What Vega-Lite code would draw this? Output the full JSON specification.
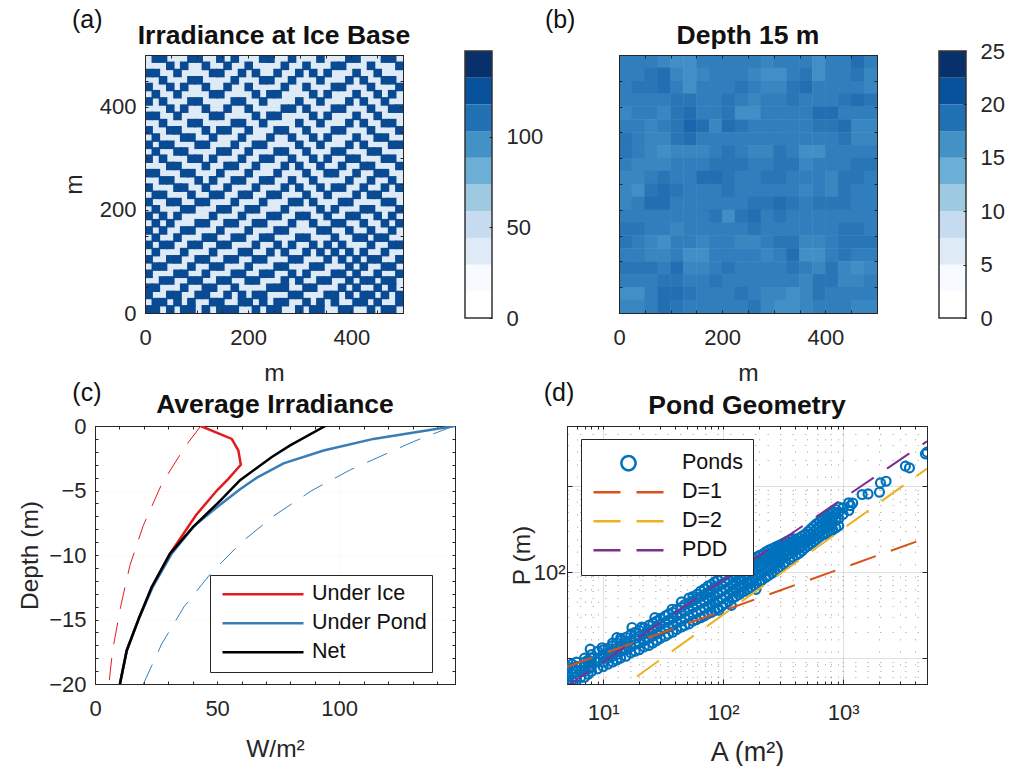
{"$schema":"https://vega.github.io/schema/vega-lite/v6.json","background":"white","padding":{"left":17,"top":7,"right":0,"bottom":0},
"config":{"font":"Liberation Sans","view":{"stroke":"#262626","strokeWidth":1},"title":{"font":"Liberation Sans","fontSize":26.5,"fontWeight":"bold","color":"#111111"},"axis":{"labelFont":"Liberation Sans","labelFontSize":22,"labelColor":"#262626","titleFont":"Liberation Sans","titleFontSize":24.5,"titleFontWeight":"normal","titleColor":"#262626","tickColor":"#262626","domainColor":"#262626","gridColor":"#262626","gridOpacity":0.15,"labelOverlap":false,"labelFlush":false},"legend":{"labelFont":"Liberation Sans","labelFontSize":21.5,"labelColor":"#111111"}},
"datasets":{"irr":[
{"s":"Under Ice","k":"base","w":43.3,"d":0},{"s":"Under Ice","k":"base","w":56,"d":-1},{"s":"Under Ice","k":"base","w":58.7,"d":-1.9},{"s":"Under Ice","k":"base","w":59.7,"d":-3},{"s":"Under Ice","k":"base","w":54.6,"d":-4.1},{"s":"Under Ice","k":"base","w":49.9,"d":-5},{"s":"Under Ice","k":"base","w":41.4,"d":-6.9},{"s":"Under Ice","k":"base","w":30.7,"d":-9.9},{"s":"Under Ice","k":"base","w":23.2,"d":-12.5},{"s":"Under Ice","k":"base","w":18.2,"d":-14.8},{"s":"Under Ice","k":"base","w":13,"d":-17.4},{"s":"Under Ice","k":"base","w":10.2,"d":-20},
{"s":"Under Pond","k":"base","w":147.3,"d":0},{"s":"Under Pond","k":"base","w":114,"d":-1},{"s":"Under Pond","k":"base","w":93.6,"d":-1.9},{"s":"Under Pond","k":"base","w":77.2,"d":-2.9},{"s":"Under Pond","k":"base","w":66.3,"d":-4},{"s":"Under Pond","k":"base","w":59.4,"d":-4.9},{"s":"Under Pond","k":"base","w":51.2,"d":-6.1},{"s":"Under Pond","k":"base","w":40.3,"d":-7.8},{"s":"Under Pond","k":"base","w":31.4,"d":-9.9},{"s":"Under Pond","k":"base","w":23.6,"d":-12.5},{"s":"Under Pond","k":"base","w":18.2,"d":-14.8},{"s":"Under Pond","k":"base","w":13,"d":-17.4},{"s":"Under Pond","k":"base","w":10.2,"d":-20},
{"s":"Net","k":"base","w":94.3,"d":0},{"s":"Net","k":"base","w":79.9,"d":-1.5},{"s":"Net","k":"base","w":72.4,"d":-2.4},{"s":"Net","k":"base","w":59.4,"d":-4.2},{"s":"Net","k":"base","w":51.2,"d":-5.8},{"s":"Net","k":"base","w":40.3,"d":-7.8},{"s":"Net","k":"base","w":30.7,"d":-9.9},{"s":"Net","k":"base","w":23.2,"d":-12.5},{"s":"Net","k":"base","w":18.2,"d":-14.8},{"s":"Net","k":"base","w":13,"d":-17.4},{"s":"Net","k":"base","w":10.2,"d":-20},
{"s":"Under Ice","k":"top","w":43.3,"d":0},{"s":"Under Ice","k":"top","w":36.9,"d":-1.6},{"s":"Under Ice","k":"top","w":27.3,"d":-4.5},{"s":"Under Ice","k":"top","w":19.8,"d":-7.7},{"s":"Under Ice","k":"top","w":14.3,"d":-10.8},{"s":"Under Ice","k":"top","w":10.5,"d":-14},{"s":"Under Ice","k":"top","w":7.2,"d":-17.4},{"s":"Under Ice","k":"top","w":5.7,"d":-20},
{"s":"Under Pond","k":"top","w":146.9,"d":0},{"s":"Under Pond","k":"top","w":130.5,"d":-1.2},{"s":"Under Pond","k":"top","w":104.5,"d":-3.4},{"s":"Under Pond","k":"top","w":88.8,"d":-5},{"s":"Under Pond","k":"top","w":73.7,"d":-6.9},{"s":"Under Pond","k":"top","w":60,"d":-9},{"s":"Under Pond","k":"top","w":47.1,"d":-11.5},{"s":"Under Pond","k":"top","w":36.5,"d":-14},{"s":"Under Pond","k":"top","w":27.3,"d":-16.9},{"s":"Under Pond","k":"top","w":19.8,"d":-20}],
"fits":[{"s":"D=1","A":5,"P":7.93},{"s":"D=1","A":5000,"P":250.7},{"s":"D=2","A":5,"P":1.6},{"s":"D=2","A":5000,"P":1600},{"s":"PDD","A":5,"P":4.71},{"s":"PDD","A":5000,"P":3311}],
"ponds":[{"A":5,"P":5},{"A":5,"P":5.5},{"A":5,"P":6},{"A":5,"P":6.5},{"A":5,"P":7},{"A":5,"P":7.5},{"A":5,"P":8},{"A":5.5,"P":5.5},{"A":5.5,"P":6.5},{"A":5.5,"P":7.5},{"A":5.5,"P":8.5},{"A":6,"P":5.5},{"A":6,"P":6},{"A":6,"P":7},{"A":6,"P":8},{"A":6,"P":9},{"A":7,"P":6},{"A":7,"P":7},{"A":7,"P":8},{"A":7,"P":9},{"A":7,"P":10},{"A":8,"P":7},{"A":8,"P":8},{"A":8,"P":9},{"A":8,"P":10},{"A":8,"P":11},{"A":7.8,"P":12.7},{"A":9,"P":7.5},{"A":9,"P":9},{"A":9,"P":10},{"A":9,"P":12},{"A":10,"P":8},{"A":10,"P":9},{"A":10,"P":10},{"A":10,"P":11},{"A":10,"P":12.5},{"A":9.8,"P":13.2},{"A":12,"P":9},{"A":12,"P":10.5},{"A":12,"P":12},{"A":12,"P":14},{"A":12,"P":15},{"A":13,"P":17.3},{"A":14,"P":10},{"A":14,"P":12},{"A":14,"P":14},{"A":14,"P":16},{"A":14,"P":17},{"A":17,"P":11.5},{"A":17,"P":13.5},{"A":17,"P":16},{"A":17,"P":19},{"A":17.4,"P":22.7},{"A":20,"P":12.5},{"A":20,"P":15},{"A":20,"P":18},{"A":20,"P":21},{"A":21,"P":23},{"A":24,"P":14},{"A":24,"P":17},{"A":24,"P":20},{"A":24,"P":24},{"A":27,"P":29.6},{"A":28,"P":16},{"A":28,"P":19},{"A":28,"P":23},{"A":28,"P":27},{"A":33,"P":18},{"A":33,"P":22},{"A":33,"P":26},{"A":33,"P":31},{"A":37.6,"P":37},{"A":38,"P":20},{"A":38,"P":24},{"A":38,"P":29},{"A":38,"P":34},{"A":45,"P":23},{"A":45,"P":27},{"A":45,"P":33},{"A":45,"P":39},{"A":45,"P":45},{"A":52,"P":25},{"A":52,"P":31},{"A":52,"P":37},{"A":52,"P":44},{"A":52,"P":50},{"A":61,"P":55.5},{"A":60,"P":28},{"A":60,"P":34},{"A":60,"P":41},{"A":60,"P":49},{"A":70,"P":31},{"A":70,"P":38},{"A":70,"P":46},{"A":70,"P":55},{"A":70,"P":64},{"A":80,"P":34},{"A":80,"P":42},{"A":80,"P":51},{"A":80,"P":62},{"A":80,"P":72},{"A":90,"P":38},{"A":90,"P":46},{"A":90,"P":56},{"A":90,"P":68},{"A":90,"P":80},{"A":92,"P":36},{"A":105,"P":43},{"A":105,"P":52},{"A":105,"P":63},{"A":105,"P":76},{"A":105,"P":92},{"A":117,"P":41},{"A":120,"P":50},{"A":120,"P":60},{"A":120,"P":72},{"A":120,"P":87},{"A":120,"P":104},{"A":135,"P":55},{"A":135,"P":66},{"A":135,"P":80},{"A":135,"P":96},{"A":135,"P":115},{"A":150,"P":60},{"A":150,"P":72},{"A":150,"P":87},{"A":150,"P":104},{"A":150,"P":124},{"A":170,"P":66},{"A":170,"P":80},{"A":170,"P":98},{"A":170,"P":118},{"A":170,"P":137},{"A":188,"P":63},{"A":190,"P":74},{"A":190,"P":90},{"A":190,"P":108},{"A":190,"P":130},{"A":190,"P":150},{"A":211,"P":81},{"A":215,"P":100},{"A":215,"P":122},{"A":215,"P":145},{"A":215,"P":163},{"A":240,"P":92},{"A":240,"P":112},{"A":240,"P":135},{"A":240,"P":160},{"A":240,"P":180},{"A":270,"P":102},{"A":270,"P":125},{"A":270,"P":150},{"A":270,"P":175},{"A":270,"P":194},{"A":300,"P":115},{"A":300,"P":138},{"A":300,"P":165},{"A":300,"P":190},{"A":300,"P":208},{"A":330,"P":130},{"A":340,"P":155},{"A":340,"P":182},{"A":340,"P":205},{"A":340,"P":228},{"A":380,"P":150},{"A":380,"P":175},{"A":380,"P":200},{"A":380,"P":225},{"A":380,"P":245},{"A":430,"P":165},{"A":430,"P":190},{"A":430,"P":220},{"A":430,"P":250},{"A":480,"P":190},{"A":480,"P":215},{"A":480,"P":240},{"A":480,"P":275},{"A":540,"P":215},{"A":540,"P":245},{"A":540,"P":280},{"A":540,"P":320},{"A":600,"P":240},{"A":600,"P":275},{"A":600,"P":315},{"A":600,"P":365},{"A":670,"P":270},{"A":670,"P":310},{"A":670,"P":360},{"A":670,"P":410},{"A":740,"P":285},{"A":740,"P":335},{"A":740,"P":395},{"A":740,"P":450},{"A":820,"P":310},{"A":820,"P":375},{"A":820,"P":440},{"A":820,"P":500},{"A":920,"P":345},{"A":920,"P":420},{"A":920,"P":500},{"A":920,"P":570},{"A":1000,"P":470},{"A":1000,"P":560},{"A":1114,"P":520},{"A":1114,"P":640},{"A":1150,"P":593},{"A":1202,"P":637},{"A":1439,"P":798},{"A":1614,"P":811},{"A":2009,"P":849},{"A":2046,"P":1089},{"A":2280,"P":1140},{"A":3304,"P":1706},{"A":3570,"P":1629},{"A":4850,"P":2372},{"A":5000,"P":2483},
{"A":6.5,"P":6},{"A":6.5,"P":7},{"A":6.5,"P":8},{"A":7.5,"P":6.5},{"A":7.5,"P":7.5},{"A":7.5,"P":8.5},{"A":7.5,"P":9.5},{"A":11,"P":8.5},{"A":11,"P":10},{"A":11,"P":11.5},{"A":11,"P":13},{"A":13,"P":9.5},{"A":13,"P":11},{"A":13,"P":13},{"A":13,"P":15},{"A":15.5,"P":10.5},{"A":15.5,"P":12.5},{"A":15.5,"P":15},{"A":15.5,"P":17.5},{"A":18.5,"P":12},{"A":18.5,"P":14.5},{"A":18.5,"P":17},{"A":18.5,"P":20},{"A":22,"P":13.5},{"A":22,"P":16},{"A":22,"P":19},{"A":22,"P":22.5},{"A":26,"P":15},{"A":26,"P":18},{"A":26,"P":21.5},{"A":26,"P":25.5},{"A":30,"P":17},{"A":30,"P":20.5},{"A":30,"P":24.5},{"A":30,"P":29},{"A":35,"P":19},{"A":35,"P":23},{"A":35,"P":27.5},{"A":35,"P":32.5},{"A":41,"P":21.5},{"A":41,"P":26},{"A":41,"P":31},{"A":41,"P":37},{"A":48,"P":24},{"A":48,"P":29},{"A":48,"P":35},{"A":48,"P":42},{"A":56,"P":27},{"A":56,"P":32.5},{"A":56,"P":39},{"A":56,"P":46.5},{"A":56,"P":52},{"A":65,"P":29.5},{"A":65,"P":36},{"A":65,"P":43.5},{"A":65,"P":52},{"A":65,"P":60},{"A":75,"P":33},{"A":75,"P":40},{"A":75,"P":48.5},{"A":75,"P":58},{"A":75,"P":69},{"A":85,"P":36},{"A":85,"P":44},{"A":85,"P":53.5},{"A":85,"P":65},{"A":85,"P":77},{"A":97,"P":40},{"A":97,"P":49},{"A":97,"P":60},{"A":97,"P":72},{"A":97,"P":86},{"A":112,"P":46},{"A":112,"P":56},{"A":112,"P":67},{"A":112,"P":81},{"A":112,"P":97},{"A":127,"P":52},{"A":127,"P":63},{"A":127,"P":76},{"A":127,"P":91},{"A":127,"P":109},{"A":142,"P":58},{"A":142,"P":69},{"A":142,"P":83},{"A":142,"P":100},{"A":142,"P":119},{"A":160,"P":63},{"A":160,"P":76},{"A":160,"P":92},{"A":160,"P":111},{"A":160,"P":130},{"A":180,"P":70},{"A":180,"P":85},{"A":180,"P":103},{"A":180,"P":124},{"A":180,"P":143},{"A":202,"P":78},{"A":202,"P":95},{"A":202,"P":115},{"A":202,"P":137},{"A":202,"P":157},{"A":227,"P":87},{"A":227,"P":106},{"A":227,"P":128},{"A":227,"P":152},{"A":227,"P":172},{"A":255,"P":97},{"A":255,"P":118},{"A":255,"P":142},{"A":255,"P":167},{"A":255,"P":187},{"A":285,"P":108},{"A":285,"P":131},{"A":285,"P":157},{"A":285,"P":182},{"A":285,"P":201},{"A":320,"P":122},{"A":320,"P":146},{"A":320,"P":173},{"A":320,"P":197},{"A":320,"P":218},{"A":360,"P":140},{"A":360,"P":165},{"A":360,"P":191},{"A":360,"P":215},{"A":360,"P":237},{"A":405,"P":157},{"A":405,"P":182},{"A":405,"P":210},{"A":405,"P":237},{"A":455,"P":177},{"A":455,"P":202},{"A":455,"P":230},{"A":455,"P":262},{"A":510,"P":202},{"A":510,"P":230},{"A":510,"P":260},{"A":510,"P":297},{"A":570,"P":227},{"A":570,"P":260},{"A":570,"P":297},{"A":570,"P":342},{"A":635,"P":255},{"A":635,"P":292},{"A":635,"P":337},{"A":635,"P":387},{"A":705,"P":277},{"A":705,"P":322},{"A":705,"P":377},{"A":705,"P":430},{"A":780,"P":297},{"A":780,"P":355},{"A":780,"P":417},{"A":780,"P":475},{"A":870,"P":327},{"A":870,"P":397},{"A":870,"P":470},{"A":870,"P":535}],
"ice":[{"x":7,"y":7},{"x":21,"y":7},{"x":49,"y":7},{"x":76,"y":7},{"x":90,"y":7},{"x":118,"y":7},{"x":146,"y":7},{"x":160,"y":7},{"x":174,"y":7},{"x":215,"y":7},{"x":243,"y":7},{"x":257,"y":7},{"x":299,"y":7},{"x":326,"y":7},{"x":340,"y":7},{"x":382,"y":7},{"x":396,"y":7},{"x":438,"y":7},{"x":465,"y":7},{"x":479,"y":7},
{"x":21,"y":21},{"x":35,"y":21},{"x":63,"y":21},{"x":90,"y":21},{"x":132,"y":21},{"x":146,"y":21},{"x":188,"y":21},{"x":201,"y":21},{"x":229,"y":21},{"x":257,"y":21},{"x":271,"y":21},{"x":313,"y":21},{"x":340,"y":21},{"x":368,"y":21},{"x":410,"y":21},{"x":424,"y":21},{"x":451,"y":21},{"x":493,"y":21},
{"x":7,"y":35},{"x":49,"y":35},{"x":63,"y":35},{"x":104,"y":35},{"x":118,"y":35},{"x":160,"y":35},{"x":188,"y":35},{"x":215,"y":35},{"x":229,"y":35},{"x":285,"y":35},{"x":299,"y":35},{"x":354,"y":35},{"x":368,"y":35},{"x":396,"y":35},{"x":424,"y":35},{"x":438,"y":35},{"x":465,"y":35},{"x":493,"y":35},
{"x":7,"y":49},{"x":21,"y":49},{"x":76,"y":49},{"x":118,"y":49},{"x":132,"y":49},{"x":174,"y":49},{"x":243,"y":49},{"x":257,"y":49},{"x":271,"y":49},{"x":313,"y":49},{"x":326,"y":49},{"x":382,"y":49},{"x":410,"y":49},{"x":451,"y":49},{"x":479,"y":49},
{"x":35,"y":63},{"x":49,"y":63},{"x":90,"y":63},{"x":104,"y":63},{"x":146,"y":63},{"x":160,"y":63},{"x":201,"y":63},{"x":215,"y":63},{"x":271,"y":63},{"x":299,"y":63},{"x":340,"y":63},{"x":354,"y":63},{"x":396,"y":63},{"x":424,"y":63},{"x":438,"y":63},{"x":465,"y":63},{"x":479,"y":63},
{"x":7,"y":76},{"x":63,"y":76},{"x":76,"y":76},{"x":118,"y":76},{"x":174,"y":76},{"x":188,"y":76},{"x":229,"y":76},{"x":243,"y":76},{"x":285,"y":76},{"x":313,"y":76},{"x":368,"y":76},{"x":382,"y":76},{"x":410,"y":76},{"x":451,"y":76},{"x":493,"y":76},
{"x":21,"y":90},{"x":35,"y":90},{"x":90,"y":90},{"x":132,"y":90},{"x":146,"y":90},{"x":201,"y":90},{"x":257,"y":90},{"x":271,"y":90},{"x":326,"y":90},{"x":340,"y":90},{"x":396,"y":90},{"x":424,"y":90},{"x":465,"y":90},{"x":479,"y":90},
{"x":7,"y":104},{"x":49,"y":104},{"x":63,"y":104},{"x":104,"y":104},{"x":118,"y":104},{"x":160,"y":104},{"x":174,"y":104},{"x":215,"y":104},{"x":229,"y":104},{"x":285,"y":104},{"x":299,"y":104},{"x":354,"y":104},{"x":382,"y":104},{"x":410,"y":104},{"x":438,"y":104},{"x":451,"y":104},{"x":493,"y":104},
{"x":21,"y":118},{"x":76,"y":118},{"x":132,"y":118},{"x":188,"y":118},{"x":201,"y":118},{"x":243,"y":118},{"x":271,"y":118},{"x":313,"y":118},{"x":340,"y":118},{"x":368,"y":118},{"x":396,"y":118},{"x":424,"y":118},{"x":465,"y":118},
{"x":7,"y":132},{"x":35,"y":132},{"x":49,"y":132},{"x":90,"y":132},{"x":104,"y":132},{"x":146,"y":132},{"x":160,"y":132},{"x":215,"y":132},{"x":257,"y":132},{"x":285,"y":132},{"x":326,"y":132},{"x":354,"y":132},{"x":382,"y":132},{"x":438,"y":132},{"x":479,"y":132},{"x":493,"y":132},
{"x":21,"y":146},{"x":63,"y":146},{"x":118,"y":146},{"x":132,"y":146},{"x":174,"y":146},{"x":188,"y":146},{"x":229,"y":146},{"x":243,"y":146},{"x":299,"y":146},{"x":313,"y":146},{"x":368,"y":146},{"x":410,"y":146},{"x":424,"y":146},{"x":451,"y":146},{"x":465,"y":146},
{"x":7,"y":160},{"x":35,"y":160},{"x":76,"y":160},{"x":90,"y":160},{"x":146,"y":160},{"x":201,"y":160},{"x":257,"y":160},{"x":271,"y":160},{"x":340,"y":160},{"x":354,"y":160},{"x":396,"y":160},{"x":438,"y":160},{"x":479,"y":160},
{"x":21,"y":174},{"x":49,"y":174},{"x":104,"y":174},{"x":118,"y":174},{"x":160,"y":174},{"x":174,"y":174},{"x":215,"y":174},{"x":229,"y":174},{"x":285,"y":174},{"x":326,"y":174},{"x":368,"y":174},{"x":382,"y":174},{"x":424,"y":174},{"x":465,"y":174},{"x":493,"y":174},
{"x":7,"y":188},{"x":35,"y":188},{"x":63,"y":188},{"x":132,"y":188},{"x":188,"y":188},{"x":243,"y":188},{"x":257,"y":188},{"x":299,"y":188},{"x":313,"y":188},{"x":354,"y":188},{"x":396,"y":188},{"x":410,"y":188},{"x":451,"y":188},{"x":479,"y":188},
{"x":21,"y":201},{"x":76,"y":201},{"x":90,"y":201},{"x":146,"y":201},{"x":160,"y":201},{"x":201,"y":201},{"x":215,"y":201},{"x":271,"y":201},{"x":340,"y":201},{"x":368,"y":201},{"x":424,"y":201},{"x":438,"y":201},{"x":493,"y":201},
{"x":7,"y":215},{"x":49,"y":215},{"x":63,"y":215},{"x":104,"y":215},{"x":118,"y":215},{"x":174,"y":215},{"x":229,"y":215},{"x":285,"y":215},{"x":299,"y":215},{"x":326,"y":215},{"x":382,"y":215},{"x":396,"y":215},{"x":465,"y":215},{"x":479,"y":215},
{"x":21,"y":229},{"x":35,"y":229},{"x":90,"y":229},{"x":132,"y":229},{"x":146,"y":229},{"x":188,"y":229},{"x":201,"y":229},{"x":243,"y":229},{"x":257,"y":229},{"x":313,"y":229},{"x":354,"y":229},{"x":410,"y":229},{"x":438,"y":229},{"x":451,"y":229},
{"x":7,"y":243},{"x":63,"y":243},{"x":76,"y":243},{"x":118,"y":243},{"x":160,"y":243},{"x":215,"y":243},{"x":271,"y":243},{"x":299,"y":243},{"x":340,"y":243},{"x":368,"y":243},{"x":382,"y":243},{"x":424,"y":243},{"x":465,"y":243},{"x":493,"y":243},
{"x":35,"y":257},{"x":49,"y":257},{"x":104,"y":257},{"x":132,"y":257},{"x":174,"y":257},{"x":188,"y":257},{"x":229,"y":257},{"x":243,"y":257},{"x":285,"y":257},{"x":326,"y":257},{"x":396,"y":257},{"x":438,"y":257},{"x":479,"y":257},
{"x":7,"y":271},{"x":21,"y":271},{"x":76,"y":271},{"x":90,"y":271},{"x":146,"y":271},{"x":201,"y":271},{"x":257,"y":271},{"x":313,"y":271},{"x":354,"y":271},{"x":368,"y":271},{"x":410,"y":271},{"x":451,"y":271},{"x":465,"y":271},
{"x":49,"y":285},{"x":63,"y":285},{"x":118,"y":285},{"x":160,"y":285},{"x":174,"y":285},{"x":215,"y":285},{"x":271,"y":285},{"x":299,"y":285},{"x":340,"y":285},{"x":382,"y":285},{"x":424,"y":285},{"x":438,"y":285},{"x":493,"y":285},
{"x":7,"y":299},{"x":35,"y":299},{"x":90,"y":299},{"x":104,"y":299},{"x":132,"y":299},{"x":188,"y":299},{"x":229,"y":299},{"x":243,"y":299},{"x":285,"y":299},{"x":326,"y":299},{"x":354,"y":299},{"x":396,"y":299},{"x":410,"y":299},{"x":465,"y":299},{"x":479,"y":299},
{"x":21,"y":313},{"x":63,"y":313},{"x":76,"y":313},{"x":146,"y":313},{"x":160,"y":313},{"x":201,"y":313},{"x":257,"y":313},{"x":271,"y":313},{"x":313,"y":313},{"x":368,"y":313},{"x":382,"y":313},{"x":438,"y":313},{"x":451,"y":313},
{"x":7,"y":326},{"x":35,"y":326},{"x":49,"y":326},{"x":104,"y":326},{"x":118,"y":326},{"x":174,"y":326},{"x":215,"y":326},{"x":229,"y":326},{"x":299,"y":326},{"x":340,"y":326},{"x":396,"y":326},{"x":424,"y":326},{"x":479,"y":326},{"x":493,"y":326},
{"x":21,"y":340},{"x":76,"y":340},{"x":90,"y":340},{"x":132,"y":340},{"x":188,"y":340},{"x":243,"y":340},{"x":285,"y":340},{"x":326,"y":340},{"x":354,"y":340},{"x":410,"y":340},{"x":451,"y":340},{"x":465,"y":340},
{"x":7,"y":354},{"x":49,"y":354},{"x":63,"y":354},{"x":118,"y":354},{"x":146,"y":354},{"x":160,"y":354},{"x":201,"y":354},{"x":257,"y":354},{"x":271,"y":354},{"x":313,"y":354},{"x":368,"y":354},{"x":382,"y":354},{"x":438,"y":354},{"x":493,"y":354},
{"x":35,"y":368},{"x":90,"y":368},{"x":104,"y":368},{"x":174,"y":368},{"x":188,"y":368},{"x":229,"y":368},{"x":299,"y":368},{"x":340,"y":368},{"x":396,"y":368},{"x":424,"y":368},{"x":465,"y":368},{"x":479,"y":368},
{"x":7,"y":382},{"x":21,"y":382},{"x":63,"y":382},{"x":132,"y":382},{"x":146,"y":382},{"x":215,"y":382},{"x":243,"y":382},{"x":257,"y":382},{"x":326,"y":382},{"x":354,"y":382},{"x":410,"y":382},{"x":451,"y":382},
{"x":49,"y":396},{"x":76,"y":396},{"x":118,"y":396},{"x":160,"y":396},{"x":201,"y":396},{"x":271,"y":396},{"x":285,"y":396},{"x":313,"y":396},{"x":368,"y":396},{"x":382,"y":396},{"x":438,"y":396},{"x":479,"y":396},{"x":493,"y":396},
{"x":7,"y":410},{"x":35,"y":410},{"x":90,"y":410},{"x":104,"y":410},{"x":174,"y":410},{"x":188,"y":410},{"x":229,"y":410},{"x":299,"y":410},{"x":340,"y":410},{"x":396,"y":410},{"x":424,"y":410},{"x":465,"y":410},
{"x":21,"y":424},{"x":63,"y":424},{"x":132,"y":424},{"x":146,"y":424},{"x":215,"y":424},{"x":243,"y":424},{"x":257,"y":424},{"x":326,"y":424},{"x":354,"y":424},{"x":410,"y":424},{"x":451,"y":424},{"x":479,"y":424},
{"x":7,"y":438},{"x":49,"y":438},{"x":76,"y":438},{"x":118,"y":438},{"x":160,"y":438},{"x":201,"y":438},{"x":271,"y":438},{"x":313,"y":438},{"x":368,"y":438},{"x":382,"y":438},{"x":438,"y":438},{"x":493,"y":438},
{"x":35,"y":451},{"x":90,"y":451},{"x":104,"y":451},{"x":174,"y":451},{"x":229,"y":451},{"x":243,"y":451},{"x":285,"y":451},{"x":340,"y":451},{"x":396,"y":451},{"x":424,"y":451},{"x":465,"y":451},{"x":479,"y":451},
{"x":7,"y":465},{"x":21,"y":465},{"x":63,"y":465},{"x":132,"y":465},{"x":146,"y":465},{"x":188,"y":465},{"x":215,"y":465},{"x":257,"y":465},{"x":299,"y":465},{"x":326,"y":465},{"x":354,"y":465},{"x":410,"y":465},{"x":451,"y":465},
{"x":49,"y":479},{"x":76,"y":479},{"x":118,"y":479},{"x":160,"y":479},{"x":201,"y":479},{"x":271,"y":479},{"x":313,"y":479},{"x":368,"y":479},{"x":382,"y":479},{"x":438,"y":479},{"x":493,"y":479},
{"x":21,"y":493},{"x":35,"y":493},{"x":90,"y":493},{"x":104,"y":493},{"x":146,"y":493},{"x":174,"y":493},{"x":229,"y":493},{"x":243,"y":493},{"x":285,"y":493},{"x":340,"y":493},{"x":396,"y":493},{"x":410,"y":493},{"x":465,"y":493},{"x":479,"y":493}],
"depth":[{"x":12.5,"y":487.5,"v":17},{"x":37.5,"y":487.5,"v":17},{"x":62.5,"y":487.5,"v":17},{"x":87.5,"y":487.5,"v":16},{"x":112.5,"y":487.5,"v":15},{"x":137.5,"y":487.5,"v":15},{"x":162.5,"y":487.5,"v":17},{"x":187.5,"y":487.5,"v":17},{"x":212.5,"y":487.5,"v":17},{"x":237.5,"y":487.5,"v":17},{"x":262.5,"y":487.5,"v":17},{"x":287.5,"y":487.5,"v":16},{"x":312.5,"y":487.5,"v":17},{"x":337.5,"y":487.5,"v":17},{"x":362.5,"y":487.5,"v":17},{"x":387.5,"y":487.5,"v":15},{"x":412.5,"y":487.5,"v":17},{"x":437.5,"y":487.5,"v":17},{"x":462.5,"y":487.5,"v":19},{"x":487.5,"y":487.5,"v":17},
{"x":12.5,"y":437.5,"v":17},{"x":37.5,"y":437.5,"v":18},{"x":62.5,"y":437.5,"v":18},{"x":87.5,"y":437.5,"v":19},{"x":112.5,"y":437.5,"v":17},{"x":137.5,"y":437.5,"v":15},{"x":162.5,"y":437.5,"v":17},{"x":187.5,"y":437.5,"v":17},{"x":212.5,"y":437.5,"v":17},{"x":237.5,"y":437.5,"v":18},{"x":262.5,"y":437.5,"v":17},{"x":287.5,"y":437.5,"v":16},{"x":312.5,"y":437.5,"v":16},{"x":337.5,"y":437.5,"v":18},{"x":362.5,"y":437.5,"v":19},{"x":387.5,"y":437.5,"v":17},{"x":412.5,"y":437.5,"v":17},{"x":437.5,"y":437.5,"v":17},{"x":462.5,"y":437.5,"v":17},{"x":487.5,"y":437.5,"v":16},
{"x":12.5,"y":462.5,"v":17},{"x":37.5,"y":462.5,"v":17},{"x":62.5,"y":462.5,"v":18},{"x":87.5,"y":462.5,"v":19},{"x":112.5,"y":462.5,"v":16},{"x":137.5,"y":462.5,"v":15},{"x":162.5,"y":462.5,"v":16},{"x":187.5,"y":462.5,"v":17},{"x":212.5,"y":462.5,"v":17},{"x":237.5,"y":462.5,"v":17},{"x":262.5,"y":462.5,"v":16},{"x":287.5,"y":462.5,"v":15},{"x":312.5,"y":462.5,"v":15},{"x":337.5,"y":462.5,"v":17},{"x":362.5,"y":462.5,"v":18},{"x":387.5,"y":462.5,"v":15},{"x":412.5,"y":462.5,"v":17},{"x":437.5,"y":462.5,"v":17},{"x":462.5,"y":462.5,"v":18},{"x":487.5,"y":462.5,"v":16},
{"x":12.5,"y":412.5,"v":17},{"x":37.5,"y":412.5,"v":17},{"x":62.5,"y":412.5,"v":17},{"x":87.5,"y":412.5,"v":17},{"x":112.5,"y":412.5,"v":18},{"x":137.5,"y":412.5,"v":18},{"x":162.5,"y":412.5,"v":17},{"x":187.5,"y":412.5,"v":17},{"x":212.5,"y":412.5,"v":18},{"x":237.5,"y":412.5,"v":17},{"x":262.5,"y":412.5,"v":16},{"x":287.5,"y":412.5,"v":17},{"x":312.5,"y":412.5,"v":17},{"x":337.5,"y":412.5,"v":18},{"x":362.5,"y":412.5,"v":17},{"x":387.5,"y":412.5,"v":17},{"x":412.5,"y":412.5,"v":17},{"x":437.5,"y":412.5,"v":18},{"x":462.5,"y":412.5,"v":19},{"x":487.5,"y":412.5,"v":18},
{"x":12.5,"y":387.5,"v":16},{"x":37.5,"y":387.5,"v":17},{"x":62.5,"y":387.5,"v":17},{"x":87.5,"y":387.5,"v":16},{"x":112.5,"y":387.5,"v":18},{"x":137.5,"y":387.5,"v":19},{"x":162.5,"y":387.5,"v":17},{"x":187.5,"y":387.5,"v":17},{"x":212.5,"y":387.5,"v":18},{"x":237.5,"y":387.5,"v":15},{"x":262.5,"y":387.5,"v":15},{"x":287.5,"y":387.5,"v":17},{"x":312.5,"y":387.5,"v":17},{"x":337.5,"y":387.5,"v":17},{"x":362.5,"y":387.5,"v":17},{"x":387.5,"y":387.5,"v":19},{"x":412.5,"y":387.5,"v":19},{"x":437.5,"y":387.5,"v":17},{"x":462.5,"y":387.5,"v":17},{"x":487.5,"y":387.5,"v":17},
{"x":12.5,"y":362.5,"v":17},{"x":37.5,"y":362.5,"v":17},{"x":62.5,"y":362.5,"v":16},{"x":87.5,"y":362.5,"v":17},{"x":112.5,"y":362.5,"v":18},{"x":137.5,"y":362.5,"v":20},{"x":162.5,"y":362.5,"v":19},{"x":187.5,"y":362.5,"v":16},{"x":212.5,"y":362.5,"v":19},{"x":237.5,"y":362.5,"v":18},{"x":262.5,"y":362.5,"v":17},{"x":287.5,"y":362.5,"v":17},{"x":312.5,"y":362.5,"v":17},{"x":337.5,"y":362.5,"v":17},{"x":362.5,"y":362.5,"v":17},{"x":387.5,"y":362.5,"v":18},{"x":412.5,"y":362.5,"v":18},{"x":437.5,"y":362.5,"v":19},{"x":462.5,"y":362.5,"v":16},{"x":487.5,"y":362.5,"v":16},
{"x":12.5,"y":337.5,"v":18},{"x":37.5,"y":337.5,"v":17},{"x":62.5,"y":337.5,"v":16},{"x":87.5,"y":337.5,"v":16},{"x":112.5,"y":337.5,"v":18},{"x":137.5,"y":337.5,"v":19},{"x":162.5,"y":337.5,"v":17},{"x":187.5,"y":337.5,"v":17},{"x":212.5,"y":337.5,"v":17},{"x":237.5,"y":337.5,"v":17},{"x":262.5,"y":337.5,"v":17},{"x":287.5,"y":337.5,"v":17},{"x":312.5,"y":337.5,"v":17},{"x":337.5,"y":337.5,"v":17},{"x":362.5,"y":337.5,"v":17},{"x":387.5,"y":337.5,"v":17},{"x":412.5,"y":337.5,"v":17},{"x":437.5,"y":337.5,"v":18},{"x":462.5,"y":337.5,"v":16},{"x":487.5,"y":337.5,"v":16},
{"x":12.5,"y":312.5,"v":18},{"x":37.5,"y":312.5,"v":17},{"x":62.5,"y":312.5,"v":16},{"x":87.5,"y":312.5,"v":15},{"x":112.5,"y":312.5,"v":16},{"x":137.5,"y":312.5,"v":16},{"x":162.5,"y":312.5,"v":16},{"x":187.5,"y":312.5,"v":17},{"x":212.5,"y":312.5,"v":18},{"x":237.5,"y":312.5,"v":17},{"x":262.5,"y":312.5,"v":16},{"x":287.5,"y":312.5,"v":16},{"x":312.5,"y":312.5,"v":18},{"x":337.5,"y":312.5,"v":17},{"x":362.5,"y":312.5,"v":15},{"x":387.5,"y":312.5,"v":15},{"x":412.5,"y":312.5,"v":17},{"x":437.5,"y":312.5,"v":17},{"x":462.5,"y":312.5,"v":17},{"x":487.5,"y":312.5,"v":17},
{"x":12.5,"y":287.5,"v":17},{"x":37.5,"y":287.5,"v":16},{"x":62.5,"y":287.5,"v":16},{"x":87.5,"y":287.5,"v":16},{"x":112.5,"y":287.5,"v":17},{"x":137.5,"y":287.5,"v":17},{"x":162.5,"y":287.5,"v":17},{"x":187.5,"y":287.5,"v":18},{"x":212.5,"y":287.5,"v":18},{"x":237.5,"y":287.5,"v":18},{"x":262.5,"y":287.5,"v":17},{"x":287.5,"y":287.5,"v":17},{"x":312.5,"y":287.5,"v":18},{"x":337.5,"y":287.5,"v":18},{"x":362.5,"y":287.5,"v":16},{"x":387.5,"y":287.5,"v":17},{"x":412.5,"y":287.5,"v":17},{"x":437.5,"y":287.5,"v":17},{"x":462.5,"y":287.5,"v":18},{"x":487.5,"y":287.5,"v":18},
{"x":12.5,"y":262.5,"v":16},{"x":37.5,"y":262.5,"v":16},{"x":62.5,"y":262.5,"v":17},{"x":87.5,"y":262.5,"v":18},{"x":112.5,"y":262.5,"v":17},{"x":137.5,"y":262.5,"v":17},{"x":162.5,"y":262.5,"v":19},{"x":187.5,"y":262.5,"v":19},{"x":212.5,"y":262.5,"v":18},{"x":237.5,"y":262.5,"v":17},{"x":262.5,"y":262.5,"v":17},{"x":287.5,"y":262.5,"v":18},{"x":312.5,"y":262.5,"v":18},{"x":337.5,"y":262.5,"v":17},{"x":362.5,"y":262.5,"v":17},{"x":387.5,"y":262.5,"v":17},{"x":412.5,"y":262.5,"v":16},{"x":437.5,"y":262.5,"v":18},{"x":462.5,"y":262.5,"v":18},{"x":487.5,"y":262.5,"v":17},
{"x":12.5,"y":237.5,"v":16},{"x":37.5,"y":237.5,"v":15},{"x":62.5,"y":237.5,"v":18},{"x":87.5,"y":237.5,"v":19},{"x":112.5,"y":237.5,"v":18},{"x":137.5,"y":237.5,"v":17},{"x":162.5,"y":237.5,"v":17},{"x":187.5,"y":237.5,"v":17},{"x":212.5,"y":237.5,"v":18},{"x":237.5,"y":237.5,"v":17},{"x":262.5,"y":237.5,"v":17},{"x":287.5,"y":237.5,"v":17},{"x":312.5,"y":237.5,"v":17},{"x":337.5,"y":237.5,"v":17},{"x":362.5,"y":237.5,"v":16},{"x":387.5,"y":237.5,"v":17},{"x":412.5,"y":237.5,"v":16},{"x":437.5,"y":237.5,"v":18},{"x":462.5,"y":237.5,"v":17},{"x":487.5,"y":237.5,"v":17},
{"x":12.5,"y":212.5,"v":16},{"x":37.5,"y":212.5,"v":17},{"x":62.5,"y":212.5,"v":19},{"x":87.5,"y":212.5,"v":19},{"x":112.5,"y":212.5,"v":17},{"x":137.5,"y":212.5,"v":17},{"x":162.5,"y":212.5,"v":17},{"x":187.5,"y":212.5,"v":17},{"x":212.5,"y":212.5,"v":17},{"x":237.5,"y":212.5,"v":17},{"x":262.5,"y":212.5,"v":18},{"x":287.5,"y":212.5,"v":18},{"x":312.5,"y":212.5,"v":19},{"x":337.5,"y":212.5,"v":18},{"x":362.5,"y":212.5,"v":17},{"x":387.5,"y":212.5,"v":18},{"x":412.5,"y":212.5,"v":18},{"x":437.5,"y":212.5,"v":18},{"x":462.5,"y":212.5,"v":17},{"x":487.5,"y":212.5,"v":17},
{"x":12.5,"y":187.5,"v":17},{"x":37.5,"y":187.5,"v":17},{"x":62.5,"y":187.5,"v":17},{"x":87.5,"y":187.5,"v":17},{"x":112.5,"y":187.5,"v":17},{"x":137.5,"y":187.5,"v":17},{"x":162.5,"y":187.5,"v":17},{"x":187.5,"y":187.5,"v":18},{"x":212.5,"y":187.5,"v":15},{"x":237.5,"y":187.5,"v":18},{"x":262.5,"y":187.5,"v":19},{"x":287.5,"y":187.5,"v":17},{"x":312.5,"y":187.5,"v":18},{"x":337.5,"y":187.5,"v":17},{"x":362.5,"y":187.5,"v":17},{"x":387.5,"y":187.5,"v":17},{"x":412.5,"y":187.5,"v":17},{"x":437.5,"y":187.5,"v":17},{"x":462.5,"y":187.5,"v":17},{"x":487.5,"y":187.5,"v":17},
{"x":12.5,"y":162.5,"v":18},{"x":37.5,"y":162.5,"v":18},{"x":62.5,"y":162.5,"v":17},{"x":87.5,"y":162.5,"v":17},{"x":112.5,"y":162.5,"v":16},{"x":137.5,"y":162.5,"v":17},{"x":162.5,"y":162.5,"v":17},{"x":187.5,"y":162.5,"v":17},{"x":212.5,"y":162.5,"v":17},{"x":237.5,"y":162.5,"v":17},{"x":262.5,"y":162.5,"v":18},{"x":287.5,"y":162.5,"v":17},{"x":312.5,"y":162.5,"v":17},{"x":337.5,"y":162.5,"v":17},{"x":362.5,"y":162.5,"v":17},{"x":387.5,"y":162.5,"v":17},{"x":412.5,"y":162.5,"v":17},{"x":437.5,"y":162.5,"v":18},{"x":462.5,"y":162.5,"v":18},{"x":487.5,"y":162.5,"v":17},
{"x":12.5,"y":137.5,"v":18},{"x":37.5,"y":137.5,"v":17},{"x":62.5,"y":137.5,"v":16},{"x":87.5,"y":137.5,"v":15},{"x":112.5,"y":137.5,"v":17},{"x":137.5,"y":137.5,"v":17},{"x":162.5,"y":137.5,"v":16},{"x":187.5,"y":137.5,"v":17},{"x":212.5,"y":137.5,"v":17},{"x":237.5,"y":137.5,"v":16},{"x":262.5,"y":137.5,"v":16},{"x":287.5,"y":137.5,"v":17},{"x":312.5,"y":137.5,"v":18},{"x":337.5,"y":137.5,"v":18},{"x":362.5,"y":137.5,"v":16},{"x":387.5,"y":137.5,"v":16},{"x":412.5,"y":137.5,"v":17},{"x":437.5,"y":137.5,"v":18},{"x":462.5,"y":137.5,"v":18},{"x":487.5,"y":137.5,"v":18},
{"x":12.5,"y":112.5,"v":17},{"x":37.5,"y":112.5,"v":17},{"x":62.5,"y":112.5,"v":16},{"x":87.5,"y":112.5,"v":16},{"x":112.5,"y":112.5,"v":17},{"x":137.5,"y":112.5,"v":15},{"x":162.5,"y":112.5,"v":15},{"x":187.5,"y":112.5,"v":17},{"x":212.5,"y":112.5,"v":17},{"x":237.5,"y":112.5,"v":17},{"x":262.5,"y":112.5,"v":17},{"x":287.5,"y":112.5,"v":16},{"x":312.5,"y":112.5,"v":17},{"x":337.5,"y":112.5,"v":19},{"x":362.5,"y":112.5,"v":15},{"x":387.5,"y":112.5,"v":15},{"x":412.5,"y":112.5,"v":17},{"x":437.5,"y":112.5,"v":18},{"x":462.5,"y":112.5,"v":17},{"x":487.5,"y":112.5,"v":17},
{"x":12.5,"y":87.5,"v":18},{"x":37.5,"y":87.5,"v":18},{"x":62.5,"y":87.5,"v":18},{"x":87.5,"y":87.5,"v":17},{"x":112.5,"y":87.5,"v":19},{"x":137.5,"y":87.5,"v":16},{"x":162.5,"y":87.5,"v":16},{"x":187.5,"y":87.5,"v":17},{"x":212.5,"y":87.5,"v":18},{"x":237.5,"y":87.5,"v":17},{"x":262.5,"y":87.5,"v":17},{"x":287.5,"y":87.5,"v":17},{"x":312.5,"y":87.5,"v":17},{"x":337.5,"y":87.5,"v":18},{"x":362.5,"y":87.5,"v":17},{"x":387.5,"y":87.5,"v":16},{"x":412.5,"y":87.5,"v":18},{"x":437.5,"y":87.5,"v":16},{"x":462.5,"y":87.5,"v":15},{"x":487.5,"y":87.5,"v":16},
{"x":12.5,"y":62.5,"v":17},{"x":37.5,"y":62.5,"v":17},{"x":62.5,"y":62.5,"v":17},{"x":87.5,"y":62.5,"v":18},{"x":112.5,"y":62.5,"v":18},{"x":137.5,"y":62.5,"v":17},{"x":162.5,"y":62.5,"v":17},{"x":187.5,"y":62.5,"v":18},{"x":212.5,"y":62.5,"v":17},{"x":237.5,"y":62.5,"v":17},{"x":262.5,"y":62.5,"v":17},{"x":287.5,"y":62.5,"v":17},{"x":312.5,"y":62.5,"v":17},{"x":337.5,"y":62.5,"v":17},{"x":362.5,"y":62.5,"v":16},{"x":387.5,"y":62.5,"v":18},{"x":412.5,"y":62.5,"v":18},{"x":437.5,"y":62.5,"v":16},{"x":462.5,"y":62.5,"v":16},{"x":487.5,"y":62.5,"v":17},
{"x":12.5,"y":37.5,"v":15},{"x":37.5,"y":37.5,"v":15},{"x":62.5,"y":37.5,"v":17},{"x":87.5,"y":37.5,"v":19},{"x":112.5,"y":37.5,"v":19},{"x":137.5,"y":37.5,"v":18},{"x":162.5,"y":37.5,"v":17},{"x":187.5,"y":37.5,"v":17},{"x":212.5,"y":37.5,"v":17},{"x":237.5,"y":37.5,"v":18},{"x":262.5,"y":37.5,"v":17},{"x":287.5,"y":37.5,"v":16},{"x":312.5,"y":37.5,"v":16},{"x":337.5,"y":37.5,"v":15},{"x":362.5,"y":37.5,"v":16},{"x":387.5,"y":37.5,"v":18},{"x":412.5,"y":37.5,"v":17},{"x":437.5,"y":37.5,"v":17},{"x":462.5,"y":37.5,"v":17},{"x":487.5,"y":37.5,"v":17},
{"x":12.5,"y":12.5,"v":16},{"x":37.5,"y":12.5,"v":16},{"x":62.5,"y":12.5,"v":17},{"x":87.5,"y":12.5,"v":19},{"x":112.5,"y":12.5,"v":18},{"x":137.5,"y":12.5,"v":17},{"x":162.5,"y":12.5,"v":17},{"x":187.5,"y":12.5,"v":17},{"x":212.5,"y":12.5,"v":17},{"x":237.5,"y":12.5,"v":17},{"x":262.5,"y":12.5,"v":18},{"x":287.5,"y":12.5,"v":16},{"x":312.5,"y":12.5,"v":15},{"x":337.5,"y":12.5,"v":15},{"x":362.5,"y":12.5,"v":16},{"x":387.5,"y":12.5,"v":17},{"x":412.5,"y":12.5,"v":17},{"x":437.5,"y":12.5,"v":17},{"x":462.5,"y":12.5,"v":16},{"x":487.5,"y":12.5,"v":16}]},
"resolve":{"scale":{"color":"independent","shape":"independent","size":"independent","strokeDash":"independent"},"legend":{"color":"independent","shape":"independent","size":"independent","strokeDash":"independent"}},
"spacing":-5,
"vconcat":[
{"spacing":-39,"resolve":{"scale":{"color":"independent"},"legend":{"color":"independent"}},"hconcat":[
 {"width":1,"height":1,"view":{"stroke":null},"data":{"values":[{"z":0}]},"mark":{"type":"point","opacity":0},"encoding":{}},
 {"spacing":1,"resolve":{"scale":{"color":"independent"},"legend":{"color":"independent"}},"hconcat":[
  {"spacing":53,"resolve":{"scale":{"color":"independent"},"legend":{"color":"independent"}},"hconcat":[
   {"width":258,"height":258,"title":{"text":"Irradiance at Ice Base","offset":-42},"resolve":{"axis":{"x":"independent","y":"independent"}},"layer":[
    {"data":{"values":[{"x0":0,"x1":500,"y0":0,"y1":500}]},"mark":{"type":"rect","fill":"#deebf7"},"encoding":{
      "x":{"field":"x0","type":"quantitative","scale":{"domain":[0,500],"nice":false},"axis":{"title":"m","zindex":1,"values":[0,50,100,150,200,250,300,350,400,450,500],"labelExpr":"datum.value%200==0?datum.label:''","tickSize":-3,"labelPadding":17,"titlePadding":13,"gridOpacity":{"condition":{"test":"datum.value%200==0","value":0.15},"value":0},"grid":true}},"x2":{"field":"x1"},
      "y":{"field":"y0","type":"quantitative","scale":{"domain":[0,500],"nice":false},"axis":{"title":"m","zindex":1,"values":[0,50,100,150,200,250,300,350,400,450,500],"labelExpr":"datum.value%200==0?datum.label:''","tickSize":-3,"labelPadding":12,"titlePadding":13,"gridOpacity":{"condition":{"test":"datum.value%200==0","value":0.15},"value":0},"grid":true}},"y2":{"field":"y1"}}},
    {"data":{"name":"ice"},"mark":{"type":"rect","width":8.6,"height":8.6,"clip":true,"fill":"#0a4a92"},"encoding":{"x":{"field":"x","type":"quantitative","axis":null},"y":{"field":"y","type":"quantitative","axis":null}}},
    {"data":{"values":[{"x":0,"y":0}]},"mark":{"type":"point","opacity":0},"encoding":{
      "x":{"field":"x","type":"quantitative","axis":{"orient":"top","title":null,"zindex":1,"values":[0,50,100,150,200,250,300,350,400,450,500],"labels":false,"tickSize":-3,"grid":false}},
      "y":{"field":"y","type":"quantitative","axis":{"orient":"right","title":null,"zindex":1,"values":[0,50,100,150,200,250,300,350,400,450,500],"labels":false,"tickSize":-3,"grid":false}}}},
    {"data":{"values":[{"x":-112,"y":568,"t":"(a)"}]},"mark":{"type":"text","fontSize":25,"font":"Liberation Sans","color":"#111111"},"encoding":{"text":{"field":"t"},"x":{"field":"x","type":"quantitative","axis":null},"y":{"field":"y","type":"quantitative","axis":null}}}
   ]},
   {"width":27,"height":258,"view":{"stroke":null},"data":{"values":[{"lo":0,"hi":14.74},{"lo":14.74,"hi":29.48},{"lo":29.48,"hi":44.22},{"lo":44.22,"hi":58.96},{"lo":58.96,"hi":73.7},{"lo":73.7,"hi":88.44},{"lo":88.44,"hi":103.18},{"lo":103.18,"hi":117.92},{"lo":117.92,"hi":132.66},{"lo":132.66,"hi":147.4}]},"layer":[{"mark":{"type":"rect"},"encoding":{
     "y":{"field":"lo","type":"quantitative","scale":{"domain":[0,147.4],"nice":false,"range":[263,-4]},"axis":{"orient":"right","title":null,"zindex":1,"values":[0,50,100],"tickSize":-3,"labelPadding":17,"grid":false,"domain":false}},"y2":{"field":"hi"},
     "color":{"field":"lo","type":"quantitative","legend":null,"scale":{"type":"threshold","domain":[14.74,29.48,44.22,58.96,73.7,88.44,103.18,117.92,132.66],"range":["#ffffff","#f7fbff","#deebf7","#c6dbef","#9ecae1","#6baed6","#4292c6","#2171b5","#08519c","#08306b"]}}}},
     {"data":{"values":[{"lo":0,"hi":147.4}]},"mark":{"type":"rect","fill":null,"stroke":"#333333","strokeWidth":1.5},"encoding":{"y":{"field":"lo","type":"quantitative"},"y2":{"field":"hi"}}}]}
  ]},
  {"spacing":60,"resolve":{"scale":{"color":"independent"},"legend":{"color":"independent"}},"hconcat":[
   {"width":258,"height":258,"title":{"text":"Depth 15 m","offset":-42},"resolve":{"axis":{"x":"independent","y":"independent"}},"layer":[
    {"data":{"name":"depth"},"mark":{"type":"rect","width":13.4,"height":13.4,"clip":true},"encoding":{
      "x":{"field":"x","type":"quantitative","scale":{"domain":[0,500],"nice":false},"axis":{"title":"m","zindex":1,"values":[0,50,100,150,200,250,300,350,400,450,500],"labelExpr":"datum.value%200==0?datum.label:''","tickSize":-3,"labelPadding":17,"titlePadding":13,"gridOpacity":{"condition":{"test":"datum.value%200==0","value":0.15},"value":0},"grid":true}},
      "y":{"field":"y","type":"quantitative","scale":{"domain":[0,500],"nice":false},"axis":{"title":null,"zindex":1,"values":[0,50,100,150,200,250,300,350,400,450,500],"labels":false,"tickSize":-3,"gridOpacity":{"condition":{"test":"datum.value%200==0","value":0.15},"value":0},"grid":true}},
      "color":{"field":"v","type":"quantitative","legend":null,"scale":{"domain":[14,20],"range":["#4a97cb","#1a66ad"],"clamp":true}}}},
    {"data":{"values":[{"x":0,"y":0}]},"mark":{"type":"point","opacity":0},"encoding":{
      "x":{"field":"x","type":"quantitative","axis":{"orient":"top","title":null,"zindex":1,"values":[0,50,100,150,200,250,300,350,400,450,500],"labels":false,"tickSize":-3,"grid":false}},
      "y":{"field":"y","type":"quantitative","axis":{"orient":"right","title":null,"zindex":1,"values":[0,50,100,150,200,250,300,350,400,450,500],"labels":false,"tickSize":-3,"grid":false}}}},
    {"data":{"values":[{"x":-114,"y":568,"t":"(b)"}]},"mark":{"type":"text","fontSize":25,"font":"Liberation Sans","color":"#111111"},"encoding":{"text":{"field":"t"},"x":{"field":"x","type":"quantitative","axis":null},"y":{"field":"y","type":"quantitative","axis":null}}}
   ]},
   {"width":27,"height":258,"view":{"stroke":null},"data":{"values":[{"lo":0,"hi":2.5},{"lo":2.5,"hi":5},{"lo":5,"hi":7.5},{"lo":7.5,"hi":10},{"lo":10,"hi":12.5},{"lo":12.5,"hi":15},{"lo":15,"hi":17.5},{"lo":17.5,"hi":20},{"lo":20,"hi":22.5},{"lo":22.5,"hi":25}]},"layer":[{"mark":{"type":"rect"},"encoding":{
     "y":{"field":"lo","type":"quantitative","scale":{"domain":[0,25],"nice":false,"range":[263,-4]},"axis":{"orient":"right","title":null,"zindex":1,"values":[0,5,10,15,20,25],"tickSize":-3,"labelPadding":17,"grid":false,"domain":false}},"y2":{"field":"hi"},
     "color":{"field":"lo","type":"quantitative","legend":null,"scale":{"type":"threshold","domain":[2.5,5,7.5,10,12.5,15,17.5,20,22.5],"range":["#ffffff","#f7fbff","#deebf7","#c6dbef","#9ecae1","#6baed6","#4292c6","#2171b5","#08519c","#08306b"]}}}},
     {"data":{"values":[{"lo":0,"hi":25}]},"mark":{"type":"rect","fill":null,"stroke":"#333333","strokeWidth":1.5},"encoding":{"y":{"field":"lo","type":"quantitative"},"y2":{"field":"hi"}}}]}
  ]}
 ]}
]},
{"spacing":52,"resolve":{"scale":{"color":"independent","shape":"independent","size":"independent","strokeDash":"independent"},"legend":{"color":"independent","shape":"independent","size":"independent","strokeDash":"independent"}},"hconcat":[
 {"width":360,"height":258,"title":{"text":"Average Irradiance","offset":-38},"resolve":{"axis":{"x":"independent","y":"independent"}},"layer":[
  {"data":{"values":[{"x":0,"y":0}]},"mark":{"type":"point","opacity":0},"encoding":{
    "x":{"field":"x","type":"quantitative","scale":{"domain":[0,147.4],"nice":false},"axis":{"title":"W/m²","values":[0,10,20,30,40,50,60,70,80,90,100,110,120,130,140],"labelExpr":"datum.value%50==0?datum.label:''","tickSize":-3,"labelPadding":17,"titlePadding":18,"grid":true,"gridOpacity":{"condition":{"test":"datum.value%50==0","value":0.15},"value":0}}},
    "y":{"field":"y","type":"quantitative","scale":{"domain":[-20,0],"nice":false},"axis":{"title":"Depth (m)","values":[0,-1,-2,-3,-4,-5,-6,-7,-8,-9,-10,-11,-12,-13,-14,-15,-16,-17,-18,-19,-20],"labelExpr":"datum.value%5==0?datum.label:''","tickSize":-3,"labelPadding":12,"titlePadding":6,"grid":true,"gridOpacity":{"condition":{"test":"datum.value%5==0","value":0.15},"value":0}}}}},
  {"data":{"values":[{"x":0,"y":0}]},"mark":{"type":"point","opacity":0},"encoding":{
    "x":{"field":"x","type":"quantitative","axis":{"orient":"top","title":null,"values":[0,10,20,30,40,50,60,70,80,90,100,110,120,130,140],"labels":false,"tickSize":-3,"grid":false}},
    "y":{"field":"y","type":"quantitative","axis":{"orient":"right","title":null,"values":[0,-1,-2,-3,-4,-5,-6,-7,-8,-9,-10,-11,-12,-13,-14,-15,-16,-17,-18,-19,-20],"labels":false,"tickSize":-3,"grid":false}}}},
  {"data":{"name":"irr"},"transform":[{"filter":"datum.k=='base'"}],"mark":{"type":"line","strokeWidth":2.5,"clip":true},"encoding":{"x":{"field":"w","type":"quantitative","axis":null},"y":{"field":"d","type":"quantitative","axis":null},"order":{"field":"d","type":"quantitative","sort":"descending"},"color":{"field":"s","type":"nominal","scale":{"domain":["Under Ice","Under Pond","Net"],"range":["#e41a1c","#377eb8","#000000"]},"legend":{"title":null,"orient":"none","legendX":115,"legendY":149,"fillColor":"white","strokeColor":"#262626","padding":5,"symbolType":"stroke","symbolSize":6561,"symbolStrokeWidth":2.5,"symbolDash":[1,0],"clipHeight":28.3,"labelOffset":7,"symbolOffset":6,"rowPadding":0}}}},
  {"data":{"name":"irr"},"transform":[{"filter":"datum.k=='top'"}],"mark":{"type":"line","strokeWidth":1,"strokeDash":[22,14],"clip":true},"encoding":{"x":{"field":"w","type":"quantitative","axis":null},"y":{"field":"d","type":"quantitative","axis":null},"order":{"field":"d","type":"quantitative","sort":"descending"},"color":{"field":"s","type":"nominal"}}},
  {"data":{"values":[{"x":-3.3,"y":2.56,"t":"(c)"}]},"mark":{"type":"text","fontSize":25,"font":"Liberation Sans","color":"#111111"},"encoding":{"text":{"field":"t"},"x":{"field":"x","type":"quantitative","axis":null},"y":{"field":"y","type":"quantitative","axis":null}}}
 ]},
 {"width":360,"height":258,"title":{"text":"Pond Geometry","offset":-38},"resolve":{"axis":{"x":"independent","y":"independent"}},"layer":[
  {"data":{"values":[{"A":5,"P":5}]},"mark":{"type":"point","opacity":0},"encoding":{
    "x":{"field":"A","type":"quantitative","scale":{"type":"log","domain":[5,5000],"nice":false},"axis":{"title":"A (m²)","titleFontSize":27,"values":[10,100,1000],"labelExpr":"datum.value==10?'10¹':datum.value==100?'10²':'10³'","tickSize":-5,"labelPadding":23,"titlePadding":16,"grid":true}},
    "y":{"field":"P","type":"quantitative","scale":{"type":"log","domain":[5,5000],"nice":false},"axis":{"title":"P (m)","values":[10,100,1000],"labelExpr":"datum.value==100?'10²':''","tickSize":-5,"labelPadding":7,"titlePadding":-1,"grid":true}}}},
  {"data":{"values":[{"A":5,"P":5}]},"mark":{"type":"point","opacity":0},"encoding":{
    "x":{"field":"A","type":"quantitative","axis":{"orient":"bottom","title":null,"values":[6,7,8,9,20,30,40,50,60,70,80,90,200,300,400,500,600,700,800,900,2000,3000,4000],"labels":false,"domain":false,"tickSize":-3,"grid":true,"gridDash":[1.5,11],"gridOpacity":0.3}},
    "y":{"field":"P","type":"quantitative","axis":{"orient":"left","title":null,"values":[6,7,8,9,20,30,40,50,60,70,80,90,200,300,400,500,600,700,800,900,2000,3000,4000],"labels":false,"domain":false,"tickSize":0,"grid":true,"gridDash":[1.5,11],"gridOpacity":0.3}}}},
  {"data":{"values":[{"A":5,"P":5}]},"mark":{"type":"point","opacity":0},"encoding":{
    "x":{"field":"A","type":"quantitative","axis":{"orient":"top","title":null,"values":[6,7,8,9,10,20,30,40,50,60,70,80,90,100,200,300,400,500,600,700,800,900,1000,2000,3000,4000],"labels":false,"tickSize":-3,"grid":false}},
    "y":{"field":"P","type":"quantitative","axis":{"orient":"right","title":null,"values":[10,100,1000],"labels":false,"tickSize":-5,"grid":false}}}},
  {"data":{"name":"ponds"},"mark":{"type":"point","filled":false,"size":80,"strokeWidth":2.2,"clip":true,"opacity":1,"color":"#0072bd"},"encoding":{"x":{"field":"A","type":"quantitative","axis":null},"y":{"field":"P","type":"quantitative","axis":null}}},
  {"data":{"name":"fits"},"mark":{"type":"line","strokeWidth":2,"strokeDash":[27,16],"clip":true},"encoding":{"x":{"field":"A","type":"quantitative","axis":null},"y":{"field":"P","type":"quantitative","axis":null},"color":{"field":"s","type":"nominal","scale":{"domain":["Ponds","D=1","D=2","PDD"],"range":["#0072bd","#d95319","#edb120","#7e2f8e"]}}}},
  {"data":{"values":[{"s":"Ponds","A":100,"P":100000},{"s":"D=1","A":100,"P":100000},{"s":"D=2","A":100,"P":100000},{"s":"PDD","A":100,"P":100000}]},"mark":{"type":"point","filled":false,"clip":true,"opacity":1},"encoding":{"x":{"field":"A","type":"quantitative","axis":null},"y":{"field":"P","type":"quantitative","axis":null},
    "color":{"field":"s","type":"nominal","scale":{"domain":["Ponds","D=1","D=2","PDD"],"range":["#0072bd","#d95319","#edb120","#7e2f8e"]},"legend":{"title":null,"orient":"none","legendX":14,"legendY":13,"fillColor":"white","strokeColor":"#262626","padding":10,"symbolStrokeWidth":2.5,"clipHeight":28.3,"labelOffset":17,"symbolOffset":1,"rowPadding":0}},
    "shape":{"field":"s","type":"nominal","scale":{"domain":["Ponds","D=1","D=2","PDD"],"range":["circle","stroke","stroke","stroke"]},"legend":{"title":null,"orient":"none","legendX":14,"legendY":13,"fillColor":"white","strokeColor":"#262626","padding":10,"symbolStrokeWidth":2.5,"clipHeight":28.3,"labelOffset":17,"symbolOffset":1,"rowPadding":0}},
    "size":{"field":"s","type":"nominal","scale":{"type":"ordinal","domain":["Ponds","D=1","D=2","PDD"],"range":[200,4900,4900,4900]},"legend":{"title":null,"orient":"none","legendX":14,"legendY":13,"fillColor":"white","strokeColor":"#262626","padding":10,"symbolStrokeWidth":2.5,"clipHeight":28.3,"labelOffset":17,"symbolOffset":1,"rowPadding":0}},
    "strokeDash":{"field":"s","type":"nominal","scale":{"domain":["Ponds","D=1","D=2","PDD"],"range":[[1,0],[27,16],[27,16],[27,16]]},"legend":{"title":null,"orient":"none","legendX":14,"legendY":13,"fillColor":"white","strokeColor":"#262626","padding":10,"symbolStrokeWidth":2.5,"clipHeight":28.3,"labelOffset":17,"symbolOffset":1,"rowPadding":0}}}},
  {"data":{"values":[{"x":4.29,"y":11995,"t":"(d)"}]},"mark":{"type":"text","fontSize":25,"font":"Liberation Sans","color":"#111111"},"encoding":{"text":{"field":"t"},"x":{"field":"x","type":"quantitative","axis":null},"y":{"field":"y","type":"quantitative","axis":null}}}
 ]}
]}
]}
